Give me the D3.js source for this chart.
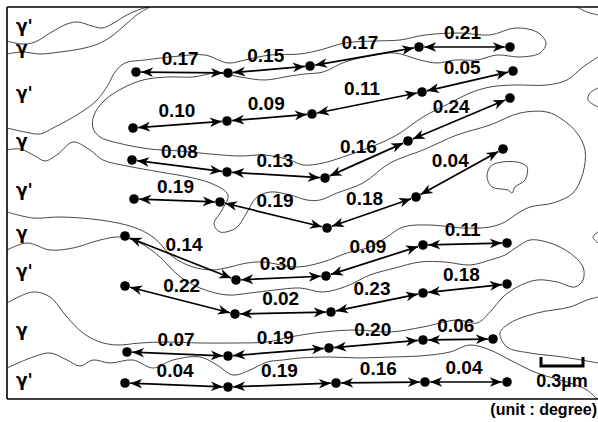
<!DOCTYPE html>
<html>
<head>
<meta charset="utf-8">
<script src="https://cdn.jsdelivr.net/npm/d3@7"></script>
<style>
  body { margin: 0; background: #fff; }
  svg { display: block; font-family: "Liberation Sans", Arial, Helvetica, sans-serif; font-weight: bold; }
</style>
</head>
<body>
<div id="chart"></div>
<script>
// positions are in frame units (1 unit = 1/140 um, origin = top-left of the micrograph)
var pointX = [
  [129, 221, 303, 412, 503],
  [126, 220, 305, 415, 506],
  [125, 220, 318, 401, 503],
  [127, 213, 320, 409, 496],
  [118, 229, 319, 416, 500],
  [118, 228, 324, 416, 500],
  [120, 221, 322, 416, 486],
  [118, 221, 329, 418, 500]
]
var pointY = [
  [65, 66, 59, 40, 40],
  [121, 114, 107, 85, 64],
  [153, 165, 171, 134, 91],
  [192, 195, 221, 190, 142],
  [229, 273, 269, 238, 236],
  [279, 307, 305, 286, 277],
  [345, 349, 341, 333, 332],
  [376, 380, 376, 375, 375]
]
// misorientation between neighbouring points (degree)
var angles = [
  [0.17, 0.15, 0.17, 0.21],
  [0.10, 0.09, 0.11, 0.05],
  [0.08, 0.13, 0.16, 0.24],
  [0.19, 0.19, 0.18, 0.04],
  [0.14, 0.30, 0.09, 0.11],
  [0.22, 0.02, 0.23, 0.18],
  [0.07, 0.19, 0.20, 0.06],
  [0.04, 0.19, 0.16, 0.04]
]
var phaseLabels = ["γ'", "γ", "γ'", "γ", "γ'", "γ", "γ'", "γ", "γ'"]
var phaseLabelY = [21, 43, 88, 136, 185, 228, 266, 325, 375]

// γ/γ' interface traces
var contours = [
  [[0,34],[15,37],[28,35],[43,26],[60,17],[71,15],[85,19],[95,21],[105,17],[118,9],[131,3],[141,0]],
  [[0,47],[15,45],[33,47],[53,45],[73,42],[91,37],[105,29],[118,18],[131,7],[143,0]],
  [[0,121],[18,125],[33,127],[46,121],[73,106],[90,93],[101,78],[108,65],[118,56],[138,53],[173,49],[198,48],[221,56],[238,53],[263,48],[293,47],[313,43],[338,36],[368,34],[393,33],[418,28],[453,26],[483,28],[508,21],[530,25],[539,36],[533,46],[513,50],[490,48],[470,53],[448,53],[430,56],[413,53],[388,46],[368,48],[338,55],[316,65],[298,67],[283,69],[258,73],[233,70],[210,66],[186,70],[160,70],[136,73],[116,81],[98,93],[87,108],[86,121],[93,130],[111,136],[143,142],[173,144],[203,147],[233,149],[258,148],[283,153],[296,158],[316,156],[336,150],[356,143],[376,135],[393,126],[416,110],[443,96],[463,86],[483,80],[506,78],[540,78],[560,73],[576,60],[591,50]],
  [[0,143],[13,142],[28,149],[38,154],[51,147],[66,135],[83,143],[96,153],[120,159],[153,165],[186,171],[208,178],[221,188],[215,203],[207,217],[213,225],[229,221],[239,207],[249,191],[263,185],[283,188],[300,193],[313,193],[330,186],[356,176],[383,156],[416,143],[450,128],[483,118],[513,106],[540,105],[556,113],[570,126],[578,143],[576,166],[566,186],[546,196],[523,200],[508,208],[498,215],[483,220],[456,221],[423,218],[396,220],[380,230],[363,240],[340,246],[316,255],[290,260],[256,255],[240,256],[223,260],[206,263],[186,260],[166,250],[146,230],[126,220],[93,213],[53,210],[26,211],[0,205]],
  [[0,243],[20,236],[43,243],[66,241],[93,233],[113,230],[133,236],[153,250],[171,268],[193,281],[220,288],[243,286],[268,283],[293,281],[316,285],[340,279],[363,268],[388,261],[413,255],[438,255],[463,258],[483,253],[498,248],[510,240],[523,233],[543,236],[563,246],[576,260],[576,273],[568,280],[550,275],[530,273],[510,280],[496,290],[483,305],[470,316],[450,313],[416,320],[383,325],[350,323],[316,325],[283,330],[260,335],[226,336],[193,336],[160,335],[133,336],[110,338],[93,335],[76,326],[60,310],[43,290],[26,285],[0,296]],
  [[0,361],[26,350],[43,346],[60,353],[73,359],[86,353],[103,356],[126,353],[146,361],[166,353],[193,350],[210,358],[226,368],[243,363],[260,355],[276,353],[293,351],[323,350],[353,351],[383,350],[413,349],[443,345],[463,338],[483,343],[503,353],[530,366],[563,376],[580,383],[590,392]],
  [[591,290],[580,293],[563,300],[530,306],[503,316],[493,326],[500,340],[523,346],[556,350],[591,356]],
  [[591,81],[583,86],[581,93],[591,100]],
  [[591,225],[586,230],[591,236]],
  [[570,0],[580,5],[591,8]]
]
var closedContours = [
  [[483,160],[490,156],[510,155],[520,160],[518,173],[508,180],[505,186],[501,183],[485,180],[480,170]]
]
var scaleBarLength = 42 // 0.3 um

var width = 598
var height = 422
var frame = {left: 7, top: 7, right: 598, bottom: 399}

var x = d3.scaleLinear().domain([0, 591]).range([frame.left, frame.right])
var y = d3.scaleLinear().domain([0, 392]).range([frame.top, frame.bottom])
var fmt = d3.format('.2f')

var svg = d3.select('#chart').append('svg')
  .attr('width', width)
  .attr('height', height)

svg.append('defs').append('marker')
  .attr('id', 'head')
  .attr('markerUnits', 'userSpaceOnUse')
  .attr('viewBox', '0 0 13 11')
  .attr('markerWidth', 13)
  .attr('markerHeight', 11)
  .attr('refX', 12)
  .attr('refY', 5.5)
  .attr('orient', 'auto-start-reverse')
  .append('path')
  .attr('d', 'M0,0.6 L12,5.5 L0,10.4 L3.5,5.5 Z')
  .attr('fill', '#000')

// interfaces
var line = d3.line()
  .x(function(d) { return x(d[0]) })
  .y(function(d) { return y(d[1]) })
  .curve(d3.curveCatmullRom.alpha(0.5))

var closedLine = d3.line()
  .x(function(d) { return x(d[0]) })
  .y(function(d) { return y(d[1]) })
  .curve(d3.curveCatmullRomClosed.alpha(0.5))

var g = svg.append('g').attr('class', 'contours')
  .attr('fill', 'none')
  .attr('stroke', '#333')
  .attr('stroke-width', 0.9)

g.selectAll('path.open')
  .data(contours)
  .enter().append('path')
  .attr('class', 'open')
  .attr('d', line)

g.selectAll('path.closed')
  .data(closedContours)
  .enter().append('path')
  .attr('class', 'closed')
  .attr('d', closedLine)

// frame (open on the right)
var fr = svg.append('g').attr('stroke', '#000').attr('stroke-width', 1.6)
fr.append('line').attr('x1', x(0)).attr('x2', x(591)).attr('y1', y(0)).attr('y2', y(0))
fr.append('line').attr('x1', x(0)).attr('x2', x(0)).attr('y1', y(0)).attr('y2', y(392))
fr.append('line').attr('x1', x(0)).attr('x2', x(591)).attr('y1', y(392)).attr('y2', y(392))

// segments between neighbouring points
var segments = []
angles.forEach(function(row, r) {
  row.forEach(function(v, j) {
    segments.push({
      x1: x(pointX[r][j]), y1: y(pointY[r][j]),
      x2: x(pointX[r][j + 1]), y2: y(pointY[r][j + 1]),
      value: v
    })
  })
})

var dotR = 4.8
var gap = dotR + 0.4

svg.append('g').attr('class', 'arrows')
  .selectAll('line')
  .data(segments)
  .enter().append('line')
  .attr('x1', function(d) { var l = Math.hypot(d.x2 - d.x1, d.y2 - d.y1); return d.x1 + (d.x2 - d.x1) * gap / l })
  .attr('y1', function(d) { var l = Math.hypot(d.x2 - d.x1, d.y2 - d.y1); return d.y1 + (d.y2 - d.y1) * gap / l })
  .attr('x2', function(d) { var l = Math.hypot(d.x2 - d.x1, d.y2 - d.y1); return d.x2 - (d.x2 - d.x1) * gap / l })
  .attr('y2', function(d) { var l = Math.hypot(d.x2 - d.x1, d.y2 - d.y1); return d.y2 - (d.y2 - d.y1) * gap / l })
  .attr('stroke', '#000')
  .attr('stroke-width', 1.7)
  .attr('marker-start', 'url(#head)')
  .attr('marker-end', 'url(#head)')

var dots = []
pointX.forEach(function(row, r) {
  row.forEach(function(px, j) { dots.push([px, pointY[r][j]]) })
})

svg.append('g').attr('class', 'dots')
  .selectAll('circle')
  .data(dots)
  .enter().append('circle')
  .attr('cx', function(d) { return x(d[0]) })
  .attr('cy', function(d) { return y(d[1]) })
  .attr('r', dotR)
  .attr('fill', '#000')

// value labels, set off above each segment
var off = 15
svg.append('g').attr('class', 'values')
  .selectAll('text')
  .data(segments)
  .enter().append('text')
  .attr('x', function(d) {
    var l = Math.hypot(d.x2 - d.x1, d.y2 - d.y1)
    return (d.x1 + d.x2) / 2 + off * (d.y2 - d.y1) / l - 2
  })
  .attr('y', function(d) {
    var l = Math.hypot(d.x2 - d.x1, d.y2 - d.y1)
    return (d.y1 + d.y2) / 2 - off * (d.x2 - d.x1) / l + 7
  })
  .attr('text-anchor', 'middle')
  .attr('font-size', 19)
  .attr('fill', '#000')
  .text(function(d) { return fmt(d.value) })

// phase labels
svg.append('g').attr('class', 'phases')
  .selectAll('text')
  .data(phaseLabels)
  .enter().append('text')
  .attr('x', x(9))
  .attr('y', function(d, i) { return y(phaseLabelY[i]) + 4 })
  .attr('font-family', '"DejaVu Sans", sans-serif')
  .attr('font-size', 17)
  .attr('fill', '#000')
  .text(function(d) { return d })

// scale bar
var sb = svg.append('g').attr('class', 'scalebar')
var sbX = 534, sbY = 359
sb.append('path')
  .attr('d', 'M' + x(sbX) + ',' + (y(sbY) - 9) + 'V' + y(sbY) + 'H' + x(sbX + scaleBarLength) + 'V' + (y(sbY) - 9))
  .attr('fill', 'none')
  .attr('stroke', '#000')
  .attr('stroke-width', 3)
sb.append('text')
  .attr('x', x(sbX + scaleBarLength / 2))
  .attr('y', y(sbY) + 21)
  .attr('text-anchor', 'middle')
  .attr('font-size', 18)
  .text('0.3µm')

svg.append('text')
  .attr('x', 597)
  .attr('y', 415)
  .attr('text-anchor', 'end')
  .attr('font-size', 16)
  .text('(unit : degree)')
</script>
</body>
</html>
